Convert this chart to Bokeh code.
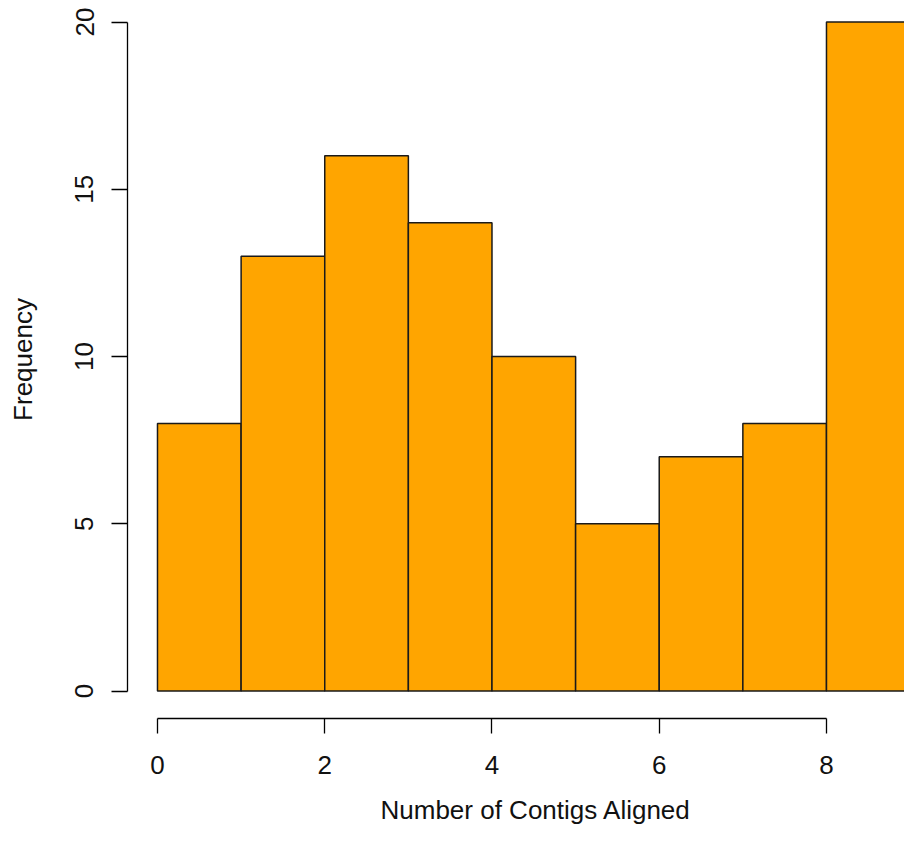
from bokeh.plotting import figure
from bokeh.models import FixedTicker, Range1d, ColumnDataSource, Title
from bokeh.embed import file_html
from bokeh.resources import INLINE

# ---- data ----
bin_left = [0, 1, 2, 3, 4, 5, 6, 7, 8]
bin_right = [1, 2, 3, 4, 5, 6, 7, 8, 9]
counts = [8, 13, 16, 14, 10, 5, 7, 8, 20]
x_ticks = [0, 2, 4, 6, 8]
y_ticks = [0, 5, 10, 15, 20]
x_title = "Number of Contigs Aligned"
y_title = "Frequency"

FONT = "Liberation Sans"
FS = "26px"
LINE = "#000000"
LW = 1.3
TXT = "#111111"

src = ColumnDataSource(dict(left=bin_left, right=bin_right, top=counts,
                            bottom=[0] * len(counts)))

p = figure(width=904, height=842, output_backend="svg", toolbar_location=None,
           x_range=Range1d(-0.3587, 8.933), y_range=Range1d(-0.822, 20.643),
           min_border_left=127, min_border_right=0, min_border_top=0,
           min_border_bottom=124)
p.outline_line_color = None
p.xgrid.visible = False
p.ygrid.visible = False
p.background_fill_color = "white"
p.border_fill_color = "white"

p.quad(left="left", right="right", top="top", bottom="bottom", source=src,
       fill_color="#FFA500", line_color="#1a1a1a", line_width=1.5)

for ax, ticks, tick_len, standoff in ((p.xaxis[0], x_ticks, 15, 22),
                                      (p.yaxis[0], y_ticks, 16, 18)):
    ax.ticker = FixedTicker(ticks=ticks)
    ax.bounds = (ticks[0], ticks[-1])
    ax.major_tick_out = tick_len
    ax.major_tick_in = 0
    ax.minor_tick_out = 0
    ax.minor_tick_in = 0
    ax.axis_line_color = LINE
    ax.axis_line_width = LW
    ax.major_tick_line_color = LINE
    ax.major_tick_line_width = LW
    ax.major_label_text_font = FONT
    ax.major_label_text_font_size = FS
    ax.major_label_text_color = TXT
    ax.major_label_standoff = standoff

yax = p.yaxis[0]
yax.major_label_orientation = "vertical"
yax.axis_label = y_title
yax.axis_label_text_font = FONT
yax.axis_label_text_font_size = FS
yax.axis_label_text_font_style = "normal"
yax.axis_label_text_color = TXT
yax.axis_label_standoff = 35

# x title centred on R's plotting region (x = 4.5), below the tick labels
p.add_layout(Title(text=x_title, align="left", offset=253, standoff=33,
                   text_font=FONT, text_font_size=FS, text_font_style="normal",
                   text_color=TXT), "below")

open("out.html", "w").write(file_html(p, INLINE))
